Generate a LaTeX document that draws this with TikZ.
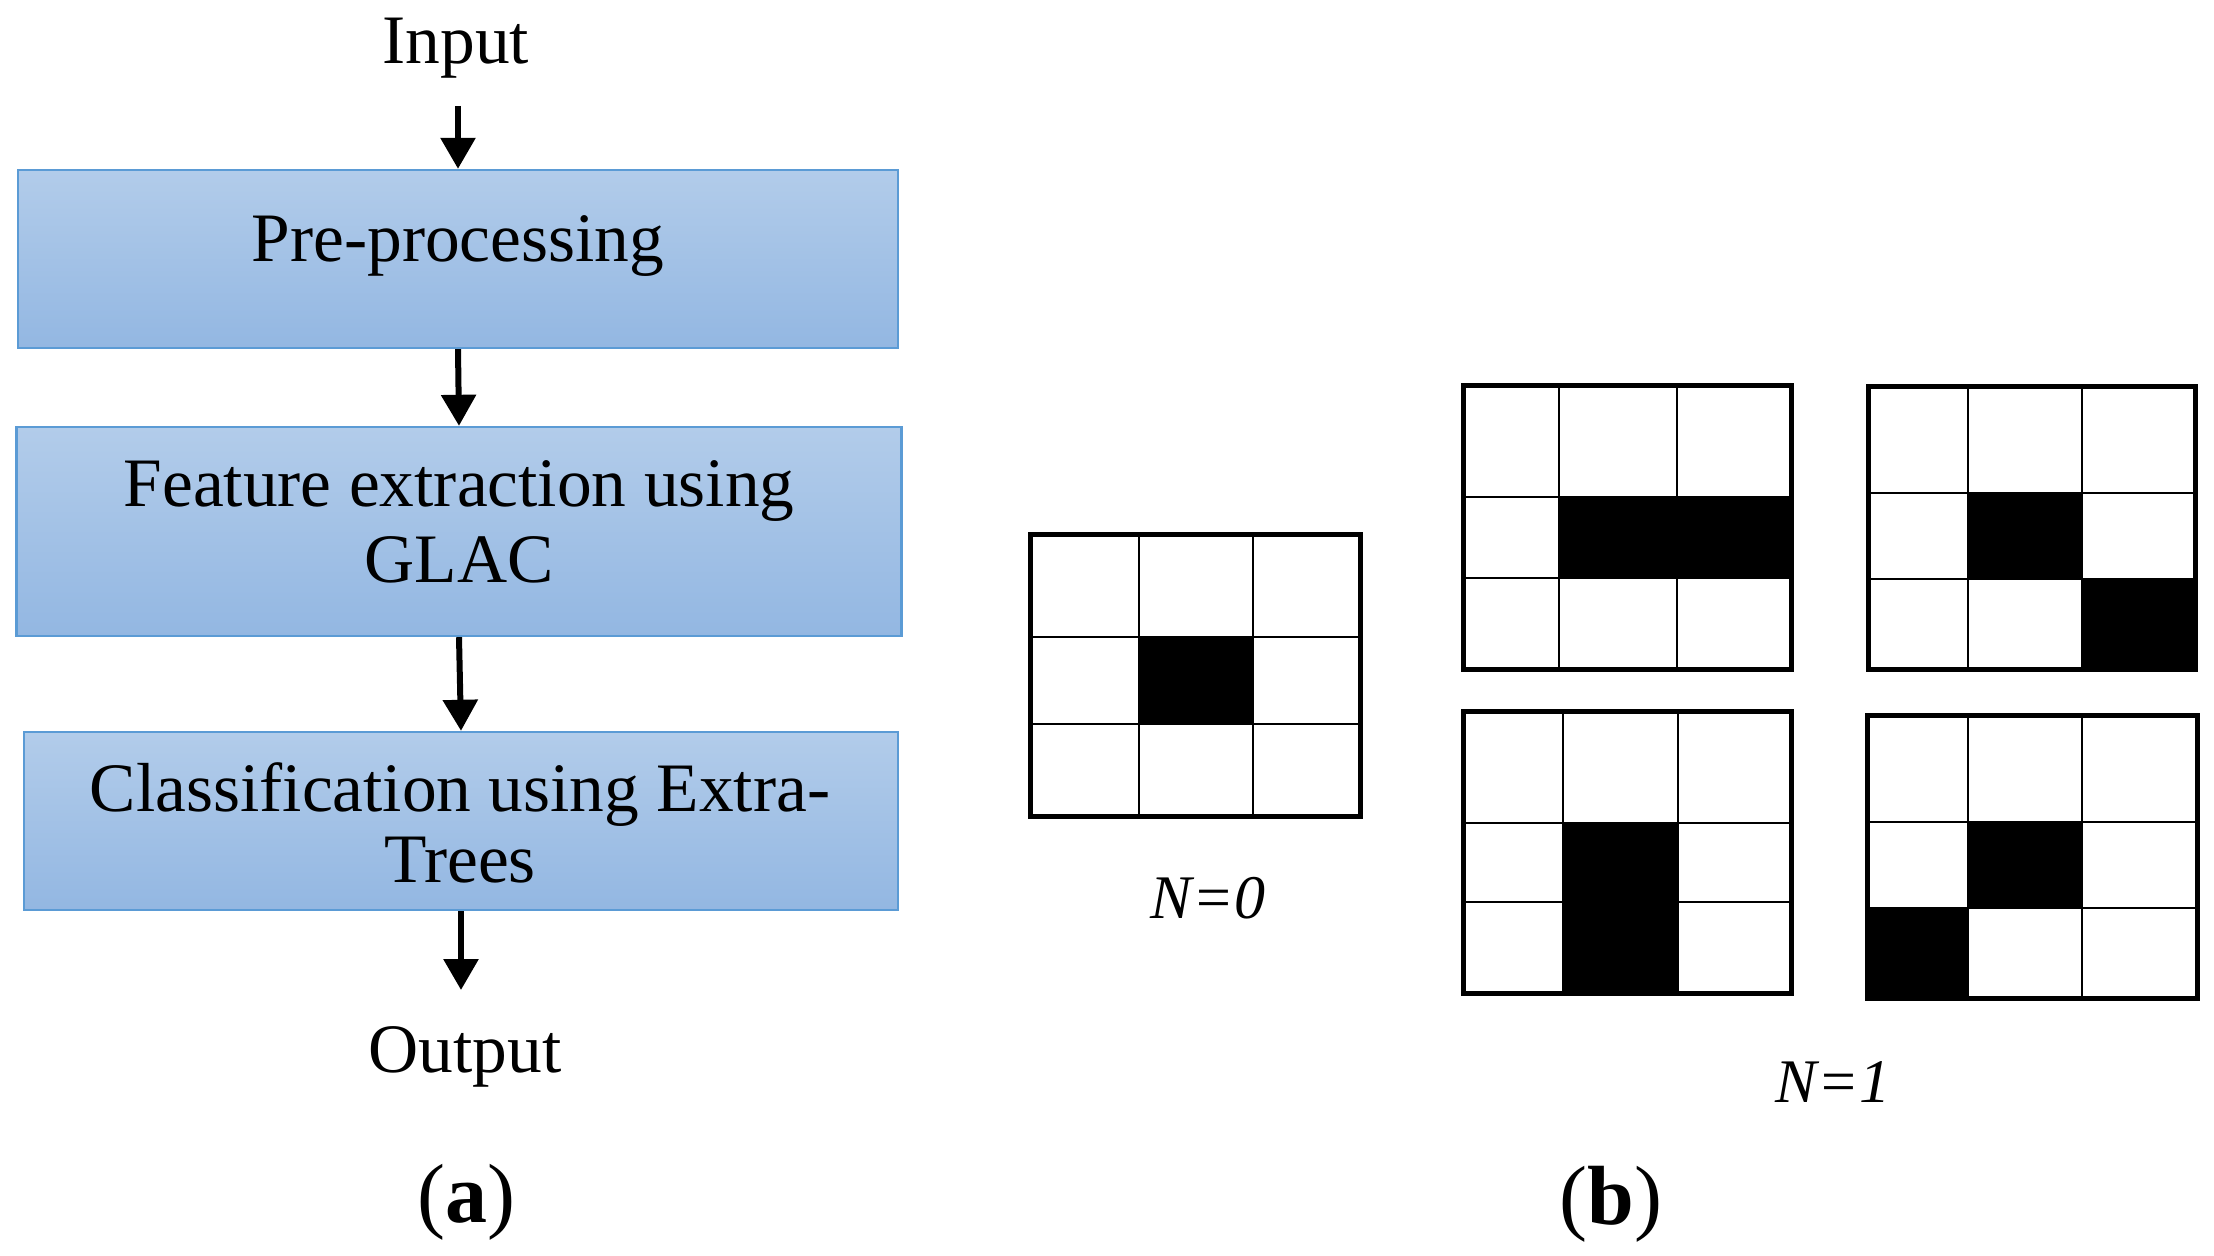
\documentclass[tikz,border=0pt]{standalone}
\usepackage{fontspec}
\setmainfont{Liberation Serif}
\usetikzlibrary{arrows.meta}
\definecolor{boxtop}{HTML}{B2CCEA}
\definecolor{boxbot}{HTML}{93B7E2}
\definecolor{boxline}{HTML}{5B9BD5}
\newcommand\mygrid[8]{%
  \draw[thinline] (#2,#5) -- (#2,#8) (#3,#5) -- (#3,#8) (#1,#6) -- (#4,#6) (#1,#7) -- (#4,#7);
  \draw[thickline] (#1,#5) rectangle (#4,#8);}
\begin{document}
\begin{tikzpicture}[x=0.5pt,y=-0.5pt,
  stagebox/.style={draw=boxline, line width=1.2pt, top color=boxtop, bottom color=boxbot, inner sep=0pt},
  txt/.style={inner sep=0pt, font=\fontsize{34.7}{38}\selectfont},
  captxt/.style={inner sep=0pt, font=\fontsize{42}{46}\selectfont},
  nlab/.style={inner sep=0pt, font=\fontsize{31}{34}\selectfont\itshape},
  arr/.style={line width=3pt, -{Triangle[width=17pt,length=15.5pt]}},
  thinline/.style={line width=1pt},
  thickline/.style={line width=2.5pt},
  cell/.style={fill=black}]
\useasboundingbox (0,0) rectangle (2214,1256);
\fill[white] (0,0) rectangle (2214,1256);

% ---- (a) flowchart ----
\node[txt, anchor=base] (in) at (456,64) {Input};
\node[stagebox, minimum width=440pt, minimum height=89pt] (b1) at (458,259) {};
\node[txt, anchor=base] (t1) at (458,262) {Pre-processing};
\node[stagebox, minimum width=442.5pt, minimum height=104.5pt] (b2) at (459,531.5) {};
\node[txt, align=center, font=\fontsize{34.7}{38}\selectfont] (t2) at (459,522) {Feature extraction using\\GLAC};
\node[stagebox, minimum width=437.25pt, minimum height=89pt] (b3) at (461,821) {};
\node[txt, align=center, font=\fontsize{34.7}{35.5}\selectfont] (t3) at (460,823) {Classification using Extra-\\Trees};
\node[txt, anchor=base] (out) at (465,1072) {Output};
\coordinate (a0) at (458,106);
\coordinate (a5) at (461,990);
\draw[arr] (a0) -- (b1.north);
\draw[arr] (b1.south) -- (b2.north);
\draw[arr] (b2.south) -- (b3.north);
\draw[arr] (b3.south) -- (a5);
\node[captxt, anchor=base] (capa) at (466,1222) {(\textbf{a})};

% ---- (b) grids ----
% N=0
\fill[cell] (1139,637) rectangle (1253,724);
\mygrid{1030}{1139}{1253}{1360}{534}{637}{724}{816}
\node[nlab, anchor=base] (n0) at (1208,918) {N=0};
% N=1 top-left
\fill[cell] (1559,497) rectangle (1791,578);
\mygrid{1463}{1559}{1677}{1791}{386}{497}{578}{669}
% N=1 top-right
\fill[cell] (1968,493) rectangle (2082,579);
\fill[cell] (2082,579) rectangle (2195,669);
\mygrid{1868}{1968}{2082}{2195}{387}{493}{579}{669}
% N=1 bottom-left
\fill[cell] (1563,823) rectangle (1678,993);
\mygrid{1463}{1563}{1678}{1791}{711}{823}{902}{993}
% N=1 bottom-right
\fill[cell] (1968,822) rectangle (2082,908);
\fill[cell] (1867,908) rectangle (1968,998);
\mygrid{1867}{1968}{2082}{2197}{715}{822}{908}{998}
\node[nlab, anchor=base] (n1) at (1833,1102) {N=1};
\node[captxt, anchor=base] (capb) at (1611,1224) {(\textbf{b})};
\end{tikzpicture}
\end{document}
